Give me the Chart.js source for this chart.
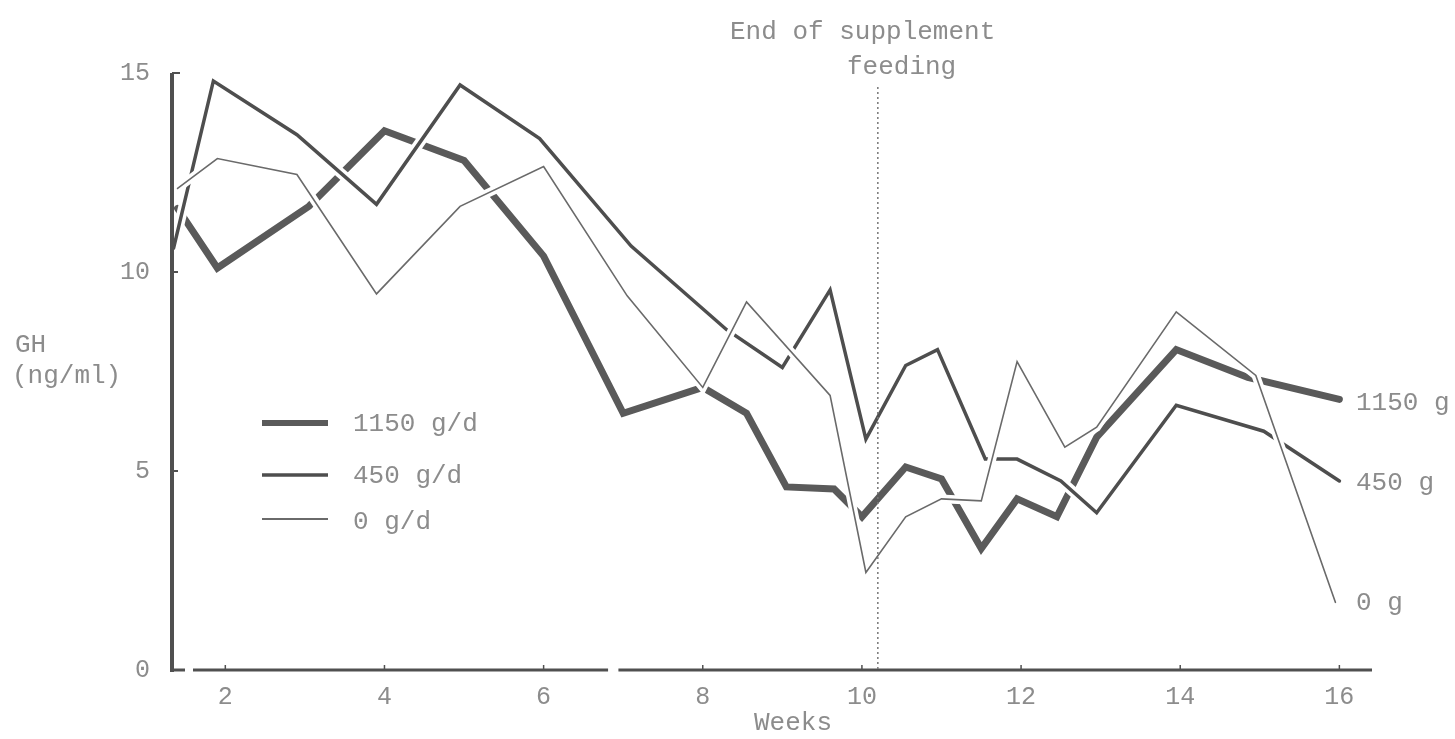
<!DOCTYPE html>
<html>
<head>
<meta charset="utf-8">
<title>GH concentration by week</title>
<script src="https://cdn.jsdelivr.net/npm/chart.js@4/dist/chart.umd.min.js"></script>
<style>
  html, body { margin: 0; padding: 0; background: #ffffff; }
  #wrap { width: 1455px; height: 739px; position: relative; }
  canvas { display: block; }
</style>
</head>
<body>
<div id="wrap"><canvas id="chart" width="1455" height="739"></canvas></div>
<script>
// Serum GH (ng/ml) by week for three supplement levels
const weeks1150 = [1.4, 1.9, 3.05, 4, 5, 6, 7, 8, 8.55, 9.05, 9.65, 10, 10.55, 11, 11.5, 11.95, 12.45, 12.95, 13.95, 14.85, 16];
const gh1150    = [11.6, 10.1, 11.65, 13.55, 12.8, 10.4, 6.45, 7.1, 6.45, 4.6, 4.55, 3.85, 5.1, 4.8, 3.05, 4.3, 3.85, 5.85, 8.05, 7.35, 6.8];

const weeks450 = [1.35, 1.85, 2.9, 3.9, 4.95, 5.95, 7.1, 8.3, 9.0, 9.6, 10.05, 10.55, 10.95, 11.55, 11.95, 12.5, 12.95, 13.95, 15.05, 16];
const gh450    = [10.6, 14.8, 13.45, 11.7, 14.7, 13.35, 10.65, 8.55, 7.6, 9.55, 5.8, 7.65, 8.05, 5.3, 5.3, 4.75, 3.95, 6.65, 6.0, 4.75];

const weeks0 = [1.4, 1.9, 2.9, 3.9, 4.95, 6, 7.05, 8, 8.55, 9.6, 10.05, 10.55, 11, 11.5, 11.95, 12.55, 12.95, 13.95, 14.95, 15.95];
const gh0    = [12.1, 12.85, 12.45, 9.45, 11.65, 12.65, 9.4, 7.1, 9.25, 6.9, 2.45, 3.85, 4.3, 4.25, 7.75, 5.6, 6.1, 9.0, 7.4, 1.7];

const xTicks = [2, 4, 6, 8, 10, 12, 14, 16];
const yTicks = [0, 5, 10, 15];
const legendNames = ['1150 g/d', '450 g/d', '0 g/d'];
const endNames = ['1150 g', '450 g', '0 g'];
const supplementEndWeek = 10.2;
const axisBreak = [6.81, 6.94];

const toPoints = (w, v) => w.map((x, i) => ({ x: x, y: v[i] }));

const INK = '#505050';
const TEXT = '#8c8c8c';
const MONO = '"Liberation Mono", "DejaVu Sans Mono", monospace';

const styles = [
  { color: '#5a5a5a', width: 7 },
  { color: '#4e4e4e', width: 3.5 },
  { color: '#6a6a6a', width: 1.6 }
];

// halo = white underlay that breaks the lines beneath where this one crosses
function lineSet(data, st, halo) {
  return {
    data: data,
    borderColor: halo ? '#ffffff' : st.color,
    borderWidth: halo ? st.width + 7 : st.width,
    pointRadius: 0,
    tension: 0,
    fill: false,
    borderJoinStyle: 'miter',
    borderCapStyle: halo ? 'butt' : 'round'
  };
}

const p1150 = toPoints(weeks1150, gh1150);
const p450 = toPoints(weeks450, gh450);
const p0 = toPoints(weeks0, gh0);

// Axes, reference line and annotations drawn through the chart's scales
const decorations = {
  id: 'decorations',
  afterDatasetsDraw(chart) {
    const ctx = chart.ctx;
    const xs = chart.scales.x, ys = chart.scales.y;
    const area = chart.chartArea;
    const x0 = area.left;
    const yZero = ys.getPixelForValue(0);
    const yTop = ys.getPixelForValue(yTicks[yTicks.length - 1]);
    ctx.save();
    ctx.strokeStyle = INK;
    ctx.lineCap = 'butt';

    // vertical axis with inner ticks
    ctx.lineWidth = 4;
    ctx.beginPath();
    ctx.moveTo(x0, yZero + 2);
    ctx.lineTo(x0, yTop);
    ctx.stroke();
    ctx.lineWidth = 2;
    yTicks.forEach(v => {
      if (v === 0) return;
      const py = ys.getPixelForValue(v);
      ctx.beginPath();
      ctx.moveTo(x0, py);
      ctx.lineTo(x0 + (v === 15 ? 8 : 6), py);
      ctx.stroke();
    });
    // foot of the axis
    ctx.lineWidth = 3;
    ctx.beginPath();
    ctx.moveTo(x0 - 1, yZero);
    ctx.lineTo(x0 + 13, yZero);
    ctx.stroke();

    // horizontal axis, broken between weeks 6 and 7
    ctx.lineWidth = 3;
    ctx.beginPath();
    ctx.moveTo(x0 + 21, yZero);
    ctx.lineTo(xs.getPixelForValue(axisBreak[0]), yZero);
    ctx.moveTo(xs.getPixelForValue(axisBreak[1]), yZero);
    ctx.lineTo(area.right, yZero);
    ctx.stroke();
    ctx.lineWidth = 1.5;
    xTicks.forEach(v => {
      const px = xs.getPixelForValue(v);
      ctx.beginPath();
      ctx.moveTo(px, yZero);
      ctx.lineTo(px, yZero - 5);
      ctx.stroke();
    });

    // end of supplement feeding
    const xd = xs.getPixelForValue(supplementEndWeek);
    ctx.strokeStyle = '#777777';
    ctx.lineWidth = 1.5;
    ctx.setLineDash([2, 3]);
    ctx.beginPath();
    ctx.moveTo(xd, ys.getPixelForValue(14.65));
    ctx.lineTo(xd, yZero);
    ctx.stroke();
    ctx.setLineDash([]);

    // legend
    const legY = [423, 475, 519];
    styles.forEach((st, i) => {
      ctx.strokeStyle = st.color;
      ctx.lineWidth = i === 0 ? 6 : (i === 1 ? 3.5 : 1.8);
      ctx.beginPath();
      ctx.moveTo(262, legY[i]);
      ctx.lineTo(328, legY[i]);
      ctx.stroke();
    });

    ctx.fillStyle = TEXT;
    ctx.font = '26px ' + MONO;
    ctx.textBaseline = 'middle';
    ctx.textAlign = 'left';
    ctx.fillText(legendNames[0], 353, 424);
    ctx.fillText(legendNames[1], 353, 476);
    ctx.fillText(legendNames[2], 353, 522);

    // end-of-line labels
    ctx.fillText(endNames[0], 1356, 403);
    ctx.fillText(endNames[1], 1356, 483);
    ctx.fillText(endNames[2], 1356, 603);

    // note above the reference line
    ctx.fillText('End of supplement', 730, 32);
    ctx.fillText('feeding', 847, 67);

    // axis titles
    ctx.fillText('GH', 15, 345);
    ctx.fillText('(ng/ml)', 12, 376);
    ctx.textAlign = 'center';
    ctx.fillText('Weeks', 793, 723);
    ctx.restore();
  }
};

// Chart.js paints the first dataset last, so the thin line comes first here
new Chart(document.getElementById('chart'), {
  type: 'line',
  data: {
    datasets: [
      lineSet(p0, styles[2], false),
      lineSet(p0, styles[2], true),
      lineSet(p450, styles[1], false),
      lineSet(p450, styles[1], true),
      lineSet(p1150, styles[0], false)
    ]
  },
  options: {
    responsive: false,
    animation: false,
    devicePixelRatio: 1,
    layout: { padding: { top: 73, right: 83, left: 0, bottom: 0 } },
    plugins: { legend: { display: false }, tooltip: { enabled: false } },
    scales: {
      x: {
        type: 'linear',
        min: 1.33,
        max: 16.41,
        afterBuildTicks: s => { s.ticks = xTicks.map(v => ({ value: v })); },
        afterFit: s => { s.height = 69; },
        grid: { display: false, drawTicks: false },
        border: { display: false },
        ticks: { color: TEXT, font: { family: MONO, size: 25 }, padding: 12, maxRotation: 0, autoSkip: false }
      },
      y: {
        type: 'linear',
        min: 0,
        max: 15,
        afterBuildTicks: s => { s.ticks = yTicks.map(v => ({ value: v })); },
        afterFit: s => { s.width = 172; },
        grid: { display: false, drawTicks: false },
        border: { display: false },
        ticks: { color: TEXT, font: { family: MONO, size: 25 }, padding: 22 }
      }
    }
  },
  plugins: [decorations]
});
</script>
</body>
</html>
